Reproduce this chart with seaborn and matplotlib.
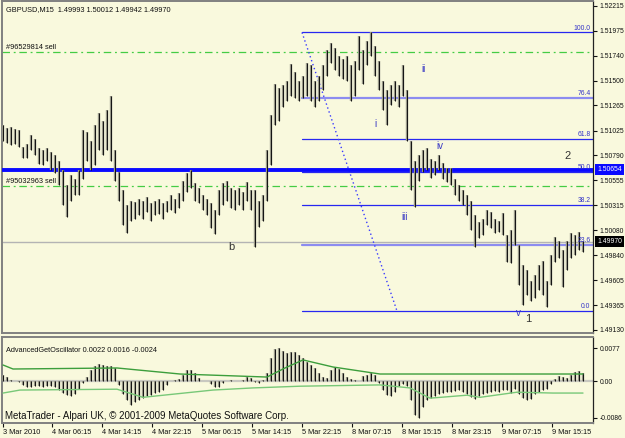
import numpy as np
import matplotlib
matplotlib.use("Agg")
import matplotlib.pyplot as plt
import matplotlib.transforms as mtransforms
import seaborn as sns

# ---------------- data ----------------
title_text = "GBPUSD,M15  1.49993 1.50012 1.49942 1.49970"

bar_high = [1.5108,1.5105,1.5106,1.5104,1.5103,1.5087,1.5090,1.5098,1.5095,1.5086,
            1.5084,1.5086,1.5082,1.5079,1.5074,1.5065,1.5051,1.5060,1.5057,1.5065,
            1.5103,1.5101,1.5093,1.5108,1.5119,1.5112,1.5122,1.5136,1.5084,1.5063,
            1.5046,1.5032,1.5036,1.5035,1.5038,1.5036,1.5039,1.5034,1.5036,1.5038,
            1.5034,1.5036,1.5041,1.5038,1.5043,1.5055,1.5062,1.5065,1.5053,1.5048,
            1.5041,1.5038,1.5034,1.5027,1.5046,1.5053,1.5055,1.5048,1.5046,1.5048,
            1.5044,1.5054,1.5046,1.5046,1.5036,1.5041,1.5084,1.5117,1.5147,1.5143,
            1.5146,1.5150,1.5166,1.5158,1.5150,1.5155,1.5167,1.5165,1.5150,1.5155,
            1.5165,1.5179,1.5186,1.5181,1.5174,1.5171,1.5174,1.5165,1.5169,1.5193,
            1.5179,1.5188,1.5196,1.5183,1.5169,1.5150,1.5141,1.5146,1.5150,1.5146,
            1.5165,1.5141,1.5093,1.5074,1.5079,1.5084,1.5086,1.5076,1.5074,1.5079,
            1.5072,1.5067,1.5067,1.5057,1.5051,1.5046,1.5041,1.5036,1.5022,1.5016,
            1.5019,1.5027,1.5025,1.5019,1.5017,1.5024,1.5003,1.5008,1.5027,1.4994,
            1.4975,1.4970,1.4960,1.4965,1.4975,1.4979,1.4960,1.4984,1.5001,1.4998,
            1.4989,1.4998,1.5005,1.5003,1.5006,1.4998]

bar_low = [1.5093,1.5091,1.5089,1.5090,1.5087,1.5077,1.5077,1.5084,1.5079,1.5071,
           1.5070,1.5074,1.5065,1.5062,1.5051,1.5032,1.5020,1.5036,1.5041,1.5041,
           1.5057,1.5074,1.5065,1.5070,1.5084,1.5079,1.5084,1.5074,1.5055,1.5036,
           1.5013,1.5005,1.5017,1.5019,1.5022,1.5019,1.5025,1.5017,1.5022,1.5023,
           1.5019,1.5025,1.5027,1.5024,1.5029,1.5036,1.5044,1.5048,1.5036,1.5034,
           1.5027,1.5022,1.5010,1.5004,1.5022,1.5032,1.5036,1.5029,1.5027,1.5032,
           1.5027,1.5036,1.5027,1.4992,1.5011,1.5017,1.5036,1.5070,1.5108,1.5112,
           1.5125,1.5131,1.5136,1.5134,1.5131,1.5134,1.5136,1.5131,1.5125,1.5131,
           1.5141,1.5155,1.5167,1.5160,1.5155,1.5152,1.5150,1.5131,1.5136,1.5160,
           1.5147,1.5165,1.5174,1.5155,1.5141,1.5122,1.5108,1.5127,1.5131,1.5125,
           1.5136,1.5093,1.5046,1.5030,1.5055,1.5063,1.5065,1.5058,1.5060,1.5065,
           1.5057,1.5054,1.5051,1.5041,1.5036,1.5032,1.5022,1.5008,1.4992,1.5000,
           1.5003,1.5013,1.5010,1.5005,1.5006,1.5003,1.4978,1.4977,1.4994,1.4956,
           1.4937,1.4946,1.4941,1.4943,1.4951,1.4946,1.4935,1.4956,1.4978,1.4981,
           1.4954,1.4970,1.4981,1.4984,1.4989,1.4987]

# oscillator histogram, in units of 0.0001
osc_hist = [15,10,3,0,-3,-10,-15,-14,-12,-12,
            -13,-12,-12,-15,-20,-28,-33,-35,-30,-18,
            -5,10,25,35,40,38,35,36,30,-10,
            -30,-45,-55,-50,-45,-40,-35,-32,-28,-25,
            -20,-10,0,2,5,15,25,27,20,8,
            0,0,-8,-15,-14,-5,0,2,1,0,
            3,10,8,-3,-5,2,20,55,75,78,
            70,65,68,67,62,55,45,38,30,20,
            10,8,25,33,28,18,10,5,2,0,
            12,15,18,14,-5,-20,-32,-35,-25,-12,
            -8,-12,-45,-80,-86,-60,-45,-40,-35,-30,
            -28,-25,-26,-24,-22,-25,-30,-38,-42,-35,
            -30,-27,-25,-23,-25,-20,-22,-28,-18,-30,
            -40,-45,-42,-30,-25,-20,-18,-8,5,12,
            10,8,15,22,24,20]

upper_idx = [0, 2.5, 28.5, 44.25, 66, 70.5, 75, 82.5, 94.25, 145]
upper_val = [37.6, 28.2, 30.6, 16.5, 9.4, 30.6, 49.4, 32.9, 16.5, 16.5]
lower_idx = [0, 4.25, 28.5, 35, 52.5, 62.5, 74.25, 94.25, 101.75, 106.75, 116, 119.25, 128.5, 137.5, 145]
lower_val = [-28, -21, -19, -38, -21, -16, -12, -9, -16, -40, -33, -38, -26, -28, -28]

fib_levels = [0.0, 23.6, 38.2, 50.0, 61.8, 76.4, 100.0]
fib_labels = ["0.0", "23.6", "38.2", "50.0", "61.8", "76.4", "100.0"]
fib_low, fib_high = 1.4931, 1.5196
fib_start, trend_end = 74.75, 98.5

blue_line_price = 1.50654
bid_price = 1.49970
order_names = ["#96529814 sell", "#95032963 sell"]
order_prices = [1.5177, 1.5050]

price_ticks = [1.52215, 1.51975, 1.51740, 1.51500, 1.51265, 1.51025, 1.50790,
               1.50555, 1.50315, 1.50080, 1.49840, 1.49605, 1.49365, 1.49130]
osc_ticks = [0.0077, 0.0, -0.0086]
osc_tick_labels = ["0.0077", "0.00", "-0.0086"]

time_pos = [0, 12.25, 24.75, 37.25, 49.75, 62.25, 74.75, 87.25, 99.75, 112.25, 124.75, 137.25]
time_labels = ["3 Mar 2010", "4 Mar 06:15", "4 Mar 14:15", "4 Mar 22:15", "5 Mar 06:15",
               "5 Mar 14:15", "5 Mar 22:15", "8 Mar 07:15", "8 Mar 15:15", "8 Mar 23:15",
               "9 Mar 07:15", "9 Mar 15:15"]

wave_text = ["ii", "i", "iii", "iv", "v", "1", "2", "b"]
wave_x = [105, 93, 100.5, 109.25, 128.75, 131.25, 141.25, 57]
wave_y = [1.5161, 1.5109, 1.5020, 1.5088, 1.4929, 1.4923, 1.5078, 1.4992]

osc_title = "AdvancedGetOscillator 0.0022 0.0016 -0.0024"
copyright_text = "MetaTrader - Alpari UK, \u00a9 2001-2009 MetaQuotes Software Corp."

# ---------------- style ----------------
sns.set_style("white")
plt.rcParams['font.family'] = ['Liberation Sans', 'DejaVu Sans']
BG = '#F9F9DD'
FS = 5.3
FS_AX = 4.9

fig = plt.figure(figsize=(6.25, 4.38), dpi=100, facecolor=BG)
ax = fig.add_axes([2/625, 105/438, 591/625, 332/438], facecolor=BG)
ax2 = fig.add_axes([2/625, 15/438, 591/625, 86/438], facecolor=BG)

xs = np.arange(len(bar_high))
xlim = (-0.25, 147.5)

# ---- main price panel ----
ax.axhline(bid_price, color='#b4b4b4', lw=1.0, zorder=1)
for p in order_prices:
    ax.axhline(p, color='#44cc44', lw=0.9, linestyle=(0, (6, 3, 1.5, 3)), zorder=1)
ytrans = mtransforms.blended_transform_factory(ax.transAxes, ax.transData)
for name, p in zip(order_names, order_prices):
    ax.text(4/591, p + 0.00012, name, fontsize=FS, color='#111111', va='bottom',
            ha='left', transform=ytrans)

rng = fib_high - fib_low
for lev, lab in zip(fib_levels, fib_labels):
    p = fib_low + rng * lev / 100.0
    if lev in (23.6, 76.4):
        ax.plot([fib_start, xlim[1]], [p, p], color='#8c8cf0', lw=1.6, zorder=2)
    else:
        ax.plot([fib_start, xlim[1]], [p, p], color='#2828f0', lw=0.9, zorder=2)
    ax.text(146.9, p + 0.00008, lab, fontsize=FS - 0.4, color='#3434c8', ha='right', va='bottom', zorder=5)

ax.axhline(blue_line_price, color='#0a0aff', lw=2.8, zorder=3)

sns.lineplot(x=[fib_start, trend_end], y=[fib_high, fib_low], ax=ax, color='#3a3aff',
             lw=1.0, linestyle=(0, (1, 2)), zorder=2)

ax.vlines(xs, bar_low, bar_high, color='#9a9a8a', lw=1.7, zorder=4)
ax.vlines(xs, bar_low, bar_high, color='#151515', lw=0.75, zorder=4)

for t, x, y in zip(wave_text, wave_x, wave_y):
    if t in ("1", "2", "b"):
        ax.text(x, y, t, fontsize=8, color='#333333', ha='center', va='center', zorder=6)
    else:
        ax.text(x, y, t, fontsize=7, color='#3a3ac4', ha='center', va='center', zorder=6)

ax.text(4/591, 0.985, title_text, transform=ax.transAxes, fontsize=FS, va='top', ha='left', color='#111111')

ax.set_xlim(*xlim)
ax.set_ylim(1.49101, 1.52259)
ax.yaxis.tick_right()
ax.set_yticks(price_ticks)
ax.set_yticklabels([f"{v:.5f}" for v in price_ticks], fontsize=FS_AX)
ax.tick_params(axis='y', right=True, length=3, width=0.8, pad=1.5, colors='#111111')
ax.set_xticks([])

trans = mtransforms.blended_transform_factory(fig.transFigure, ax.transData)
fig.text(597/625, blue_line_price, "1.50654", transform=trans, fontsize=FS_AX, color='white', va='center',
         ha='left', bbox=dict(boxstyle='square,pad=0.3', fc='#0a0aff', ec='none'))
fig.text(597/625, bid_price, "1.49970", transform=trans, fontsize=FS_AX, color='white', va='center',
         ha='left', bbox=dict(boxstyle='square,pad=0.3', fc='#000000', ec='none'))

# ---- oscillator panel ----
osc = np.array(osc_hist) * 1e-4
ax2.axhline(0, color='#c8c8c0', lw=1.6, zorder=1)
ax2.vlines(xs, 0, osc, color='#9a9a8a', lw=1.7, zorder=3)
ax2.vlines(xs, 0, osc, color='#151515', lw=0.75, zorder=3)
sns.lineplot(x=upper_idx, y=np.array(upper_val) * 1e-4, ax=ax2, color='#3c9e3c', lw=1.0, zorder=4)
sns.lineplot(x=lower_idx, y=np.array(lower_val) * 1e-4, ax=ax2, color='#78c878', lw=1.0, zorder=4)

ax2.text(4/591, 0.84, osc_title, transform=ax2.transAxes, fontsize=FS, va='center', ha='left', color='#111111')
ax2.text(3/591, 0.085, copyright_text, transform=ax2.transAxes, fontsize=7.0, va='center', ha='left', color='#111111')

ax2.set_xlim(*xlim)
ax2.set_ylim(-0.0098, 0.0103)
ax2.yaxis.tick_right()
ax2.set_yticks(osc_ticks)
ax2.set_yticklabels(osc_tick_labels, fontsize=FS_AX)
ax2.tick_params(axis='y', right=True, length=3, width=0.8, pad=1.5, colors='#111111')
ax2.set_xticks(time_pos)
ax2.set_xticklabels(time_labels, fontsize=FS, ha='left')
ax2.tick_params(axis='x', bottom=True, length=3, width=0.8, pad=1.5, colors='#111111')
ax2.set_xlabel("")
ax2.set_ylabel("")
ax.set_xlabel("")
ax.set_ylabel("")

for a in (ax, ax2):
    for side in ('left', 'top', 'bottom'):
        a.spines[side].set_color('#808080')
        a.spines[side].set_linewidth(1.4)
    a.spines['right'].set_color('#222222')
    a.spines['right'].set_linewidth(0.9)
    if a.get_legend() is not None:
        a.get_legend().remove()

fig.savefig("out.png", dpi=100, facecolor=BG)
